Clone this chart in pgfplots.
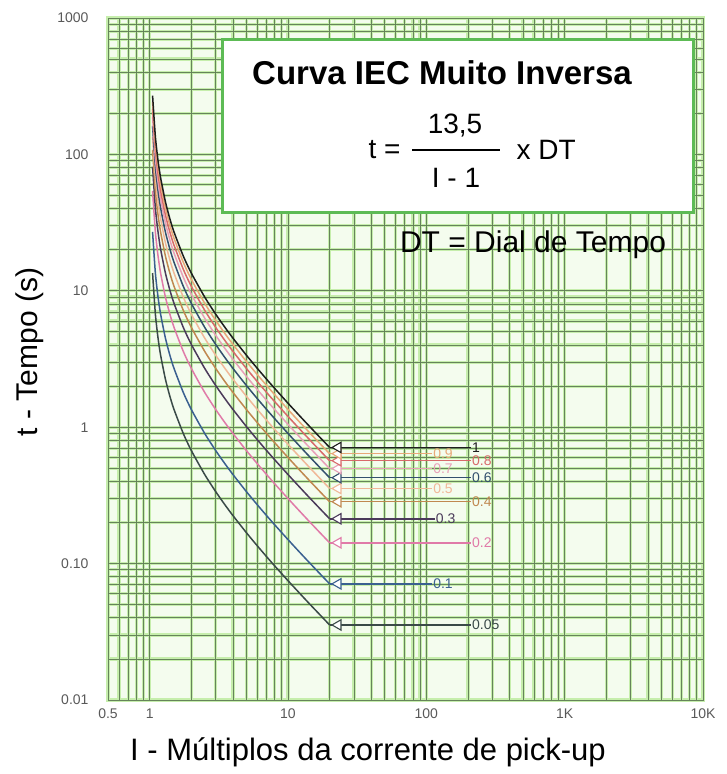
\documentclass[border=0pt]{standalone}
\usepackage{pgfplots}
\pgfplotsset{compat=1.18}
\usepackage{pgfplotstable}
\usepackage{fontspec}
\setmainfont{Liberation Sans}

\definecolor{gridDark}{HTML}{66845A}
\definecolor{gridLight}{HTML}{C6EEAC}
\definecolor{bgcol}{HTML}{F4FCEE}
\definecolor{boxgreen}{HTML}{5DBB55}
\definecolor{c10}{HTML}{1E1E1E}
\definecolor{c09}{HTML}{E8A878}
\definecolor{c08}{HTML}{D86A6A}
\definecolor{c07}{HTML}{E8A0B8}
\definecolor{c06}{HTML}{33506E}
\definecolor{c05}{HTML}{F0B898}
\definecolor{c04}{HTML}{C08850}
\definecolor{c03}{HTML}{4A3A5A}
\definecolor{c02}{HTML}{E07AA8}
\definecolor{c01}{HTML}{3A6090}
\definecolor{c005}{HTML}{3A4A48}

\pgfplotstableread{
I t10 t09 t08 t07 t06 t05 t04 t03 t02 t01 t005
1.05 270 243 216 189 162 135 108 81 54 27 13.5
1.1 135 121.5 108 94.5 81 67.5 54 40.5 27 13.5 6.75
1.15 90 81 72 63 54 45 36 27 18 9 4.5
1.2 67.5 60.75 54 47.25 40.5 33.75 27 20.25 13.5 6.75 3.375
1.3 45 40.5 36 31.5 27 22.5 18 13.5 9 4.5 2.25
1.4 33.75 30.375 27 23.625 20.25 16.875 13.5 10.125 6.75 3.375 1.6875
1.5 27 24.3 21.6 18.9 16.2 13.5 10.8 8.1 5.4 2.7 1.35
1.75 18 16.2 14.4 12.6 10.8 9 7.2 5.4 3.6 1.8 0.9
2 13.5 12.15 10.8 9.45 8.1 6.75 5.4 4.05 2.7 1.35 0.675
2.5 9 8.1 7.2 6.3 5.4 4.5 3.6 2.7 1.8 0.9 0.45
3 6.75 6.075 5.4 4.725 4.05 3.375 2.7 2.025 1.35 0.675 0.3375
3.5 5.4 4.86 4.32 3.78 3.24 2.7 2.16 1.62 1.08 0.54 0.27
4 4.5 4.05 3.6 3.15 2.7 2.25 1.8 1.35 0.9 0.45 0.225
5 3.375 3.0375 2.7 2.3625 2.025 1.6875 1.35 1.0125 0.675 0.3375 0.16875
6 2.7 2.43 2.16 1.89 1.62 1.35 1.08 0.81 0.54 0.27 0.135
7 2.25 2.025 1.8 1.575 1.35 1.125 0.9 0.675 0.45 0.225 0.1125
8 1.929 1.736 1.543 1.35 1.157 0.9643 0.7714 0.5786 0.3857 0.1929 0.0964
10 1.5 1.35 1.2 1.05 0.9 0.75 0.6 0.45 0.3 0.15 0.075
12 1.227 1.104 0.9818 0.8591 0.7364 0.6136 0.4909 0.3682 0.2455 0.1227 0.0614
14 1.0385 0.9346 0.8308 0.7269 0.6231 0.5192 0.4154 0.3115 0.2077 0.1038 0.0519
17 0.8438 0.7594 0.675 0.5906 0.5063 0.4219 0.3375 0.2531 0.1688 0.0844 0.0422
20 0.7105 0.6395 0.5684 0.4974 0.4263 0.3553 0.2842 0.2132 0.1421 0.07105 0.0355
}\curves

\pgfplotsset{
  hline/.style={line width=1.5pt, mark=triangle*, mark indices={2}, mark size=4pt,
    mark options={fill=white, rotate=90, line width=1.1pt, solid, scale=1.5}},
  curve/.style={line width=1.5pt, no marks, smooth, tension=0.4},
}
\tikzset{lab/.style={anchor=west, inner sep=1pt, font=\fontsize{14}{14}\selectfont}}

\begin{document}
\begin{tikzpicture}
\useasboundingbox (-108pt,-74pt) rectangle (618pt,700pt);
% halo layer
\begin{loglogaxis}[
  scale only axis, width=595pt, height=682pt,
  at={(0,0)}, anchor=south west,
  xmin=0.5, xmax=10000, ymin=0.01, ymax=1000,
  xtick={0.5,1,10,100,1000,10000},
  ytick={0.01,0.1,1,10,100,1000},
  minor xtick={0.6,0.7,0.8,0.9,2,3,4,5,6,7,8,9,20,30,40,50,60,70,80,90,200,300,400,500,600,700,800,900,2000,3000,4000,5000,6000,7000,8000,9000},
  minor ytick={0.02,0.03,0.04,0.05,0.06,0.07,0.08,0.09,0.2,0.3,0.4,0.5,0.6,0.7,0.8,0.9,2,3,4,5,6,7,8,9,20,30,40,50,60,70,80,90,200,300,400,500,600,700,800,900},
  grid=both,
  major tick length=0pt, minor tick length=0pt,
  axis background/.style={fill=bgcol},
  grid style={draw=gridLight, line width=3.2pt},
  minor grid style={draw=gridLight, line width=3.2pt},
  axis line style={draw=gridLight, line width=3.2pt},
  xticklabels={}, yticklabels={}]
\end{loglogaxis}
% main layer
\begin{loglogaxis}[
  scale only axis, width=595pt, height=682pt,
  at={(0,0)}, anchor=south west,
  xmin=0.5, xmax=10000, ymin=0.01, ymax=1000,
  xtick={0.5,1,10,100,1000,10000},
  ytick={0.01,0.1,1,10,100,1000},
  minor xtick={0.6,0.7,0.8,0.9,2,3,4,5,6,7,8,9,20,30,40,50,60,70,80,90,200,300,400,500,600,700,800,900,2000,3000,4000,5000,6000,7000,8000,9000},
  minor ytick={0.02,0.03,0.04,0.05,0.06,0.07,0.08,0.09,0.2,0.3,0.4,0.5,0.6,0.7,0.8,0.9,2,3,4,5,6,7,8,9,20,30,40,50,60,70,80,90,200,300,400,500,600,700,800,900},
  grid=both,
  major tick length=0pt, minor tick length=0pt,
  grid style={draw=gridDark, line width=0.8pt},
  minor grid style={draw=gridDark, line width=0.8pt},
  axis line style={draw=gridDark, line width=0.8pt},
  xticklabels={0.5,1,10,100,1K,10K},
  yticklabels={0.01,0.10,1,10,100,1000},
  tick label style={font=\fontsize{14}{14}\selectfont, text=black!65},
  yticklabel style={xshift=-16pt},
  xticklabel style={yshift=-5pt},
  clip=false]
\addplot[curve, c005] table[x=I,y=t005]{\curves};
\addplot[curve, c01] table[x=I,y=t01]{\curves};
\addplot[curve, c02] table[x=I,y=t02]{\curves};
\addplot[curve, c03] table[x=I,y=t03]{\curves};
\addplot[curve, c04] table[x=I,y=t04]{\curves};
\addplot[curve, c05] table[x=I,y=t05]{\curves};
\addplot[curve, c06] table[x=I,y=t06]{\curves};
\addplot[curve, c07] table[x=I,y=t07]{\curves};
\addplot[curve, c08] table[x=I,y=t08]{\curves};
\addplot[curve, c09] table[x=I,y=t09]{\curves};
\addplot[curve, c10] table[x=I,y=t10]{\curves};

\addplot[hline, c005] coordinates {(20,0.0355) (23,0.0355) (210,0.0355)};
\addplot[hline, c01] coordinates {(20,0.07105) (23,0.07105) (110,0.07105)};
\addplot[hline, c02] coordinates {(20,0.1421) (23,0.1421) (210,0.1421)};
\addplot[hline, c03] coordinates {(20,0.2132) (23,0.2132) (115,0.2132)};
\addplot[hline, c04] coordinates {(20,0.2842) (23,0.2842) (210,0.2842)};
\addplot[hline, c05] coordinates {(20,0.3553) (23,0.3553) (110,0.3553)};
\addplot[hline, c06] coordinates {(20,0.4263) (23,0.4263) (210,0.4263)};
\addplot[hline, c07] coordinates {(20,0.4974) (23,0.4974) (110,0.4974)};
\addplot[hline, c08] coordinates {(20,0.5684) (23,0.5684) (210,0.5684)};
\addplot[hline, c09] coordinates {(20,0.6395) (23,0.6395) (110,0.6395)};
\addplot[hline, c10] coordinates {(20,0.7105) (23,0.7105) (210,0.7105)};

\node[lab, text=c005] at (axis cs:210,0.0355) {0.05};
\node[lab, text=c01] at (axis cs:110,0.07105) {0.1};
\node[lab, text=c02] at (axis cs:210,0.1421) {0.2};
\node[lab, text=c03] at (axis cs:115,0.2132) {0.3};
\node[lab, text=c04] at (axis cs:210,0.2842) {0.4};
\node[lab, text=c05] at (axis cs:110,0.3553) {0.5};
\node[lab, text=c06] at (axis cs:210,0.4263) {0.6};
\node[lab, text=c07] at (axis cs:110,0.4974) {0.7};
\node[lab, text=c08] at (axis cs:210,0.5684) {0.8};
\node[lab, text=c09] at (axis cs:110,0.6395) {0.9};
\node[lab, text=c10] at (axis cs:210,0.7105) {1};
\end{loglogaxis}

% box
\draw[boxgreen, line width=3pt, fill=white] (114pt,487pt) rectangle (585pt,660pt);
\node[font=\bfseries\fontsize{33}{33}\selectfont] at (334pt,627pt) {Curva IEC Muito Inversa};
\node[anchor=east, font=\fontsize{28}{28}\selectfont] at (296pt,550pt) {t =};
\draw[black, line width=1.4pt] (304pt,550pt) -- (392pt,550pt);
\node[font=\fontsize{28}{28}\selectfont] at (347pt,574pt) {13,5};
\node[font=\fontsize{28}{28}\selectfont] at (348pt,522pt) {I - 1};
\node[anchor=west, font=\fontsize{28}{28}\selectfont] at (405pt,550pt) {x DT};
\node[font=\fontsize{30}{30}\selectfont] at (425pt,455pt) {DT = Dial de Tempo};
% axis labels
\node[rotate=90, font=\fontsize{30}{30}\selectfont] at (-78pt,348pt) {t - Tempo (s)};
\node[font=\fontsize{31}{31}\selectfont] at (260pt,-52pt) {I - Múltiplos da corrente de pick-up};
\end{tikzpicture}
\end{document}
